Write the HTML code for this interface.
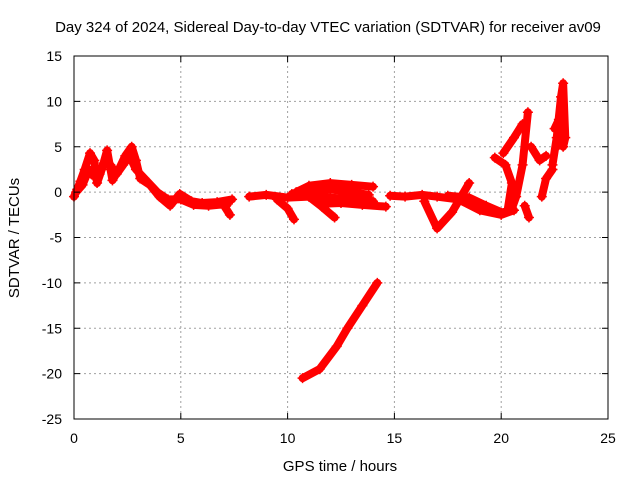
<!DOCTYPE html>
<html><head><meta charset="utf-8"><style>
body{margin:0;background:#fff}
svg{display:block;font-family:"Liberation Sans",sans-serif}
</style></head><body>
<svg id="c" width="640" height="480" viewBox="0 0 640 480">
<rect x="0" y="0" width="640" height="480" fill="#fff"/>
<text x="328" y="32" font-size="15" text-anchor="middle">Day 324 of 2024, Sidereal Day-to-day VTEC variation (SDTVAR) for receiver av09</text>
<text x="340" y="471" font-size="15" text-anchor="middle">GPS time / hours</text>
<text transform="translate(19,238) rotate(-90)" font-size="15" text-anchor="middle">SDTVAR / TECUs</text>
<g id="grid"></g><g id="marks"></g><g id="axes"></g>
</svg>
<script>
const xTicks=[0,5,10,15,20,25];
const yTicks=[15,10,5,0,-5,-10,-15,-20,-25];
const track1=[[0,-0.5],[0.15,0.3],[0.3,1.2],[0.5,2.5],[0.75,4.3],[0.95,3.5],[1.08,1],[1.3,2.5],[1.55,4.6],[1.8,1.3],[2.1,2.5],[2.4,4],[2.7,5],[2.9,3.5],[3.1,1.5],[3.55,0.8],[4,-0.5],[4.5,-1.5],[4.95,-0.2],[5.5,-1],[6,-1.2],[6.7,-1.1],[7.4,-0.8]];
const track1b=[[6.5,-1.3],[7,-1.4],[7.3,-2.5]];
const track1c=[[0.1,0],[0.4,0.8],[0.7,2.5],[0.9,1.8],[1.2,2],[1.4,3.2],[1.7,3],[2,2],[2.3,3],[2.6,4],[2.9,2.5],[3.3,1.5],[3.9,0],[4.4,-0.8],[5,-0.8],[5.6,-1.4],[6.3,-1.5],[7.2,-1.3]];
const track2=[[8.2,-0.5],[9,-0.3],[10,-0.6],[11,-0.5],[12,-0.6],[13,-0.8],[14,-1]];
const track2a=[[10.4,0],[11,0.7],[12,1],[13,0.8],[14,0.6]];
const track2b=[[9.5,-0.8],[10,-1.8],[10.3,-3]];
const track2c=[[11,-0.5],[11.6,-1.6],[12.2,-2.8]];
const track2d=[[11.5,-1.3],[12.5,-1.2],[13.5,-1.4],[14.6,-1.6]];
const track2e=[[10.2,-0.2],[11,0.2],[12,0.3],[13,0],[13.8,-0.3]];
const track3=[[14.8,-0.4],[15.5,-0.5],[16.3,-0.3],[17,-0.5],[18,-0.8],[19,-2],[20,-2.5],[20.6,-2]];
const track3b=[[16.4,-1],[17,-4],[17.7,-2.2],[18.5,1]];
const track3c=[[17.5,-0.4],[18.5,-0.6],[19.3,-1.5],[20.1,-2.3],[20.5,-1.8],[20.7,-0.5],[21,3],[21.25,8.8]];
const track3d=[[19.7,3.8],[20.2,3],[20.5,1],[20.3,-2]];
const track3e=[[20.1,4.3],[20.6,6],[21,7.5]];
const track3f=[[21.1,-1.5],[21.3,-2.8]];
const track3g=[[21.4,5],[21.8,3.5],[22.1,4]];
const track3h=[[22.4,3],[22.6,6],[22.8,10.5],[22.9,12],[23,6],[22.9,5]];
const track3i=[[21.9,-0.5],[22.1,1.5],[22.4,2.5]];
const track3j=[[22.5,7],[22.7,8],[22.8,6.5],[22.6,5]];
const track4=[[10.7,-20.5],[11.5,-19.5],[12.3,-17],[12.8,-15],[13.5,-12.5],[14.2,-10]];
const tracks=[track1,track1b,track1c,track2,track2a,track2b,track2c,track2d,track2e,track3,track3b,track3c,track3d,track3e,track3f,track3g,track3h,track3i,track3j,track4];
const X0=74,X1=608,Y0=56,Y1=419;
const sx=t=>X0+(t-0)/25*(X1-X0);
const sy=v=>Y0+(15-v)/40*(Y1-Y0);
const NS="http://www.w3.org/2000/svg";
const grid=document.getElementById('grid'),axes=document.getElementById('axes'),marks=document.getElementById('marks');
function mk(tag,attrs,parent){const e=document.createElementNS(NS,tag);for(const k in attrs)e.setAttribute(k,attrs[k]);parent.appendChild(e);return e;}
xTicks.forEach(t=>{
 const x=sx(t);
 if(t>0&&t<25){const g=mk('line',{x1:x,x2:x,y1:Y0,y2:Y1,stroke:'#a0a0a0','stroke-dasharray':'2,3'},grid);
 
 }
 mk('line',{x1:x,x2:x,y1:Y1,y2:Y1-6,stroke:'#000'},axes);
 mk('line',{x1:x,x2:x,y1:Y0,y2:Y0+6,stroke:'#000'},axes);
 const l=mk('text',{x:x,y:Y1+24,'font-size':14,'text-anchor':'middle'},axes);l.textContent=t;
 
 
});
yTicks.forEach(v=>{
 const y=sy(v);
 if(v<15&&v>-25){const g=mk('line',{x1:X0,x2:X1,y1:y,y2:y,stroke:'#a0a0a0','stroke-dasharray':'2,3'},grid);
 
 }
 mk('line',{x1:X0,x2:X0+6,y1:y,y2:y,stroke:'#000'},axes);
 mk('line',{x1:X1,x2:X1-6,y1:y,y2:y,stroke:'#000'},axes);
 const l=mk('text',{x:X0-12,y:y+5,'font-size':14,'text-anchor':'end'},axes);l.textContent=v;
 
 
});
const fr=mk('rect',{x:X0,y:Y0,width:X1-X0,height:Y1-Y0,fill:'none',stroke:'#000'},axes);


tracks.forEach(tr=>{
 const p=mk('polyline',{points:tr.map(d=>sx(d[0])+','+sy(d[1])).join(' '),fill:'none',stroke:'#f00','stroke-width':8,'stroke-linejoin':'round','stroke-linecap':'round'},marks);
 
 
 tr.forEach(d=>{
  const m=mk('path',{d:`M${sx(d[0])-5},${sy(d[1])}h10M${sx(d[0])},${sy(d[1])-5}v10`,stroke:'#f00','stroke-width':1.5},marks);
  
  
 });
});
</script>
</body></html>
